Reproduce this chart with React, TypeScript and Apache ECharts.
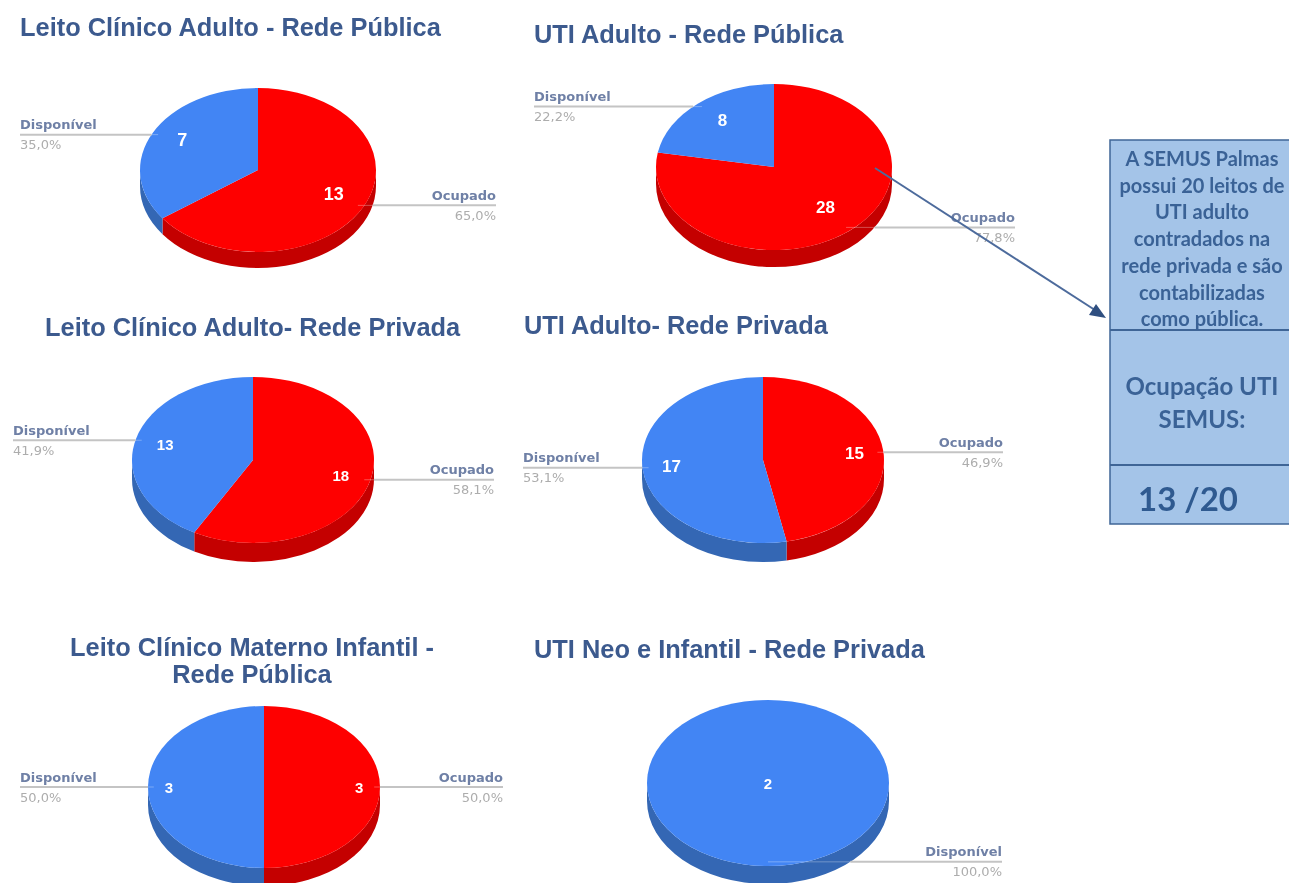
import React, { useEffect, useRef } from "react";
import * as echarts from "echarts";

// ---- data ----
const seriesNames = ["Ocupado", "Disponível"];
const ocupadoValues = [13, 28, 18, 15, 3, 0];
const disponivelValues = [7, 8, 13, 17, 3, 2];
const pieTitles = [
  "Leito Clínico Adulto - Rede Pública",
  "UTI Adulto - Rede Pública",
  "Leito Clínico Adulto- Rede Privada",
  "UTI Adulto- Rede Privada",
  "Leito Clínico Materno Infantil -\nRede Pública",
  "UTI Neo e Infantil - Rede Privada",
];
const noteLines = [
  "A SEMUS Palmas",
  "possui 20 leitos de",
  "UTI adulto",
  "contradados na",
  "rede privada e são",
  "contabilizadas",
  "como pública.",
];
const occupationLines = ["Ocupação UTI", "SEMUS:"];
const occupationValue = "13 /20";

// ---- layout and style ----
const pieBoxes = [
  { cx: 258, cy: 170, rx: 118, ry: 82, depth: 16, labelLeft: 20, labelRight: 496, valueR: 0.72, valueDy: -3, valueFont: 18 },
  { cx: 774, cy: 167, rx: 118, ry: 83, depth: 17, labelLeft: 534, labelRight: 1015, valueR: 0.68, valueDy: -3, valueFont: 17 },
  { cx: 253, cy: 460, rx: 121, ry: 83, depth: 19, labelLeft: 13, labelRight: 494, valueR: 0.75, valueDy: 0, valueFont: 15 },
  { cx: 763, cy: 460, rx: 121, ry: 83, depth: 19, labelLeft: 523, labelRight: 1003, valueR: 0.76, valueDy: 0, valueFont: 17 },
  { cx: 264, cy: 787, rx: 116, ry: 81, depth: 18, labelLeft: 20, labelRight: 503, valueR: 0.82, valueDy: 0, valueFont: 15 },
  { cx: 768, cy: 783, rx: 121, ry: 83, depth: 18, labelLeft: 523, labelRight: 1002, valueR: 0, valueDy: 0, valueFont: 15 },
];
const titleBoxes = [
  { left: 20, top: 13 },
  { left: 534, top: 20 },
  { left: 45, top: 313 },
  { left: 524, top: 311 },
  { left: 252, top: 633, center: true },
  { left: 534, top: 635 },
];
const topColors = ["#fe0000", "#4285f4"];
const sideColors = ["#c40000", "#3467b4"];
const titleColor = "#3c5a8e";
const nameColor = "#6f80a6";
const pctColor = "#adadad";
const leaderColor = "#c4c4c4";
const sansFont = "'DejaVu Sans'";
const boxFill = "#a4c4e8";
const boxLine = "#3f6596";
const boxText = "#3a6296";

type Box = (typeof pieBoxes)[number];

function pt(b: Box, a: number, f = 1, dy = 0) {
  return [b.cx + b.rx * f * Math.sin(a), b.cy + dy - b.ry * f * Math.cos(a)];
}
// Elliptical arc between two angles, split so that a full turn still draws.
function arc(b: Box, a0: number, a1: number, dy: number) {
  const steps = Math.max(1, Math.ceil(Math.abs(a1 - a0) / (Math.PI / 2)));
  let d = "";
  for (let i = 1; i <= steps; i++) {
    const t = a0 + ((a1 - a0) * i) / steps;
    const [x, y] = pt(b, t, 1, dy);
    d += `A${b.rx} ${b.ry} 0 0 ${a1 > a0 ? 1 : 0} ${x} ${y} `;
  }
  return d;
}

function renderSlice(pieIndex: number) {
  const b = pieBoxes[pieIndex];
  const vals = [ocupadoValues[pieIndex], disponivelValues[pieIndex]];
  const total = vals[0] + vals[1];
  return (params: any, api: any) => {
    const i = params.dataIndex;
    const v = api.value(0);
    if (!v) return null;
    const before = i === 0 ? 0 : vals[0];
    const a0 = (before / total) * Math.PI * 2;
    const a1 = ((before + v) / total) * Math.PI * 2;
    const mid = (a0 + a1) / 2;
    const children: any[] = [];

    // side wall: only the front half of the rim shows
    const s0 = Math.max(a0, Math.PI / 2);
    const s1 = Math.min(a1, (Math.PI * 3) / 2);
    if (s1 > s0) {
      const [sx, sy] = pt(b, s0);
      const [ex, ey] = pt(b, s1, 1, b.depth);
      const d = `M${sx} ${sy} ${arc(b, s0, s1, 0)}L${ex} ${ey} ${arc(b, s1, s0, b.depth)}Z`;
      children.push({ type: "path", shape: { pathData: d }, style: { fill: sideColors[i] } });
    }
    // top face
    const [tx, ty] = pt(b, a0);
    const full = v === total;
    const face = full
      ? `M${tx} ${ty} ${arc(b, a0, a1, 0)}Z`
      : `M${b.cx} ${b.cy} L${tx} ${ty} ${arc(b, a0, a1, 0)}Z`;
    children.push({ type: "path", shape: { pathData: face }, style: { fill: topColors[i] } });

    // value inside the slice
    const [vx, vy] = pt(b, mid, b.valueR, b.valueDy);
    children.push({
      type: "text",
      style: {
        text: String(v), x: vx, y: vy, fill: "#ffffff",
        font: `bold ${b.valueFont}px 'Liberation Sans'`, align: "center", verticalAlign: "middle",
      },
    });

    // leader line: faint over the pie, grey outside it; name above, share below
    const [ax, ay] = pt(b, mid, 0.95);
    const right = mid <= Math.PI + 1e-6;
    const ex = right ? b.labelRight : b.labelLeft;
    const rel = ay > b.cy ? Math.max(0, ay - b.cy - b.depth) : ay - b.cy;
    const halfW = b.rx * Math.sqrt(Math.max(0, 1 - (rel / b.ry) ** 2));
    const edgeX = b.cx + (right ? halfW : -halfW);
    children.push({
      type: "line",
      shape: { x1: ax, y1: ay, x2: edgeX, y2: ay },
      style: { stroke: "rgba(255,255,255,0.3)", lineWidth: 1 },
    });
    children.push({
      type: "line",
      shape: { x1: edgeX, y1: ay, x2: ex, y2: ay },
      style: { stroke: leaderColor, lineWidth: 2 },
    });
    const align = right ? "right" : "left";
    children.push({
      type: "text",
      style: {
        text: seriesNames[i], x: ex, y: ay - 10, fill: nameColor,
        font: `bold 13px ${sansFont}`, align, verticalAlign: "middle",
      },
    });
    children.push({
      type: "text",
      style: {
        text: `${((v / total) * 100).toFixed(1).replace(".", ",")}%`, x: ex, y: ay + 10, fill: pctColor,
        font: `13px ${sansFont}`, align, verticalAlign: "middle",
      },
    });
    return { type: "group", children };
  };
}

const boxX = 1110;
const boxW = 185;
const boxMid = 1202;

function noteGraphics() {
  const g: any[] = [
    { type: "rect", shape: { x: boxX, y: 140, width: boxW, height: 384 }, style: { fill: boxFill, stroke: boxLine, lineWidth: 1.5 } },
    { type: "line", shape: { x1: boxX, y1: 330, x2: 1289, y2: 330 }, style: { stroke: boxLine, lineWidth: 2 } },
    { type: "line", shape: { x1: boxX, y1: 465, x2: 1289, y2: 465 }, style: { stroke: boxLine, lineWidth: 2 } },
  ];
  noteLines.forEach((t, i) =>
    g.push({
      type: "text", z: 5,
      style: { text: t, x: boxMid, y: 158 + i * 26.7, fill: boxText, font: "bold 20px Lato", align: "center", verticalAlign: "middle" },
    })
  );
  occupationLines.forEach((t, i) =>
    g.push({
      type: "text", z: 5,
      style: { text: t, x: boxMid, y: 385 + i * 33, fill: boxText, font: "bold 24px Lato", align: "center", verticalAlign: "middle" },
    })
  );
  g.push({
    type: "text", z: 5,
    style: { text: occupationValue, x: 1138, y: 498, fill: "#2f5a90", font: "bold 33px Lato", align: "left", verticalAlign: "middle" },
  });
  // callout arrow
  g.push({ type: "line", z: 20, shape: { x1: 875, y1: 168, x2: 1098, y2: 312 }, style: { stroke: "#4d6b9c", lineWidth: 2 } });
  g.push({ type: "polygon", z: 20, shape: { points: [[1106, 318], [1089, 315], [1096, 304]] }, style: { fill: "#2f4f80" } });
  return g;
}

export default function App() {
  const ref = useRef<HTMLDivElement>(null);
  useEffect(() => {
    document.body.style.margin = "0";
    document.body.style.overflow = "hidden";
    const chart = echarts.init(ref.current!, null, { renderer: "svg" });
    chart.setOption({
      animation: false,
      backgroundColor: "#ffffff",
      title: pieTitles.map((t, i) => {
        const tb: any = titleBoxes[i];
        return {
          text: t,
          left: tb.left,
          top: tb.top,
          padding: 0,
          textAlign: tb.center ? "center" : "left",
          textStyle: { fontFamily: "'Liberation Sans'", fontSize: 25.4, fontWeight: "bold", color: titleColor, lineHeight: 27 },
        };
      }),
      series: pieBoxes.map((_, p) => ({
        type: "custom",
        coordinateSystem: "none",
        silent: true,
        renderItem: renderSlice(p),
        data: [[ocupadoValues[p]], [disponivelValues[p]]],
      })),
      graphic: { elements: noteGraphics() },
    });
    return () => chart.dispose();
  }, []);
  return <div ref={ref} style={{ width: 1289, height: 883, filter: "blur(0.6px)" }} />;
}
